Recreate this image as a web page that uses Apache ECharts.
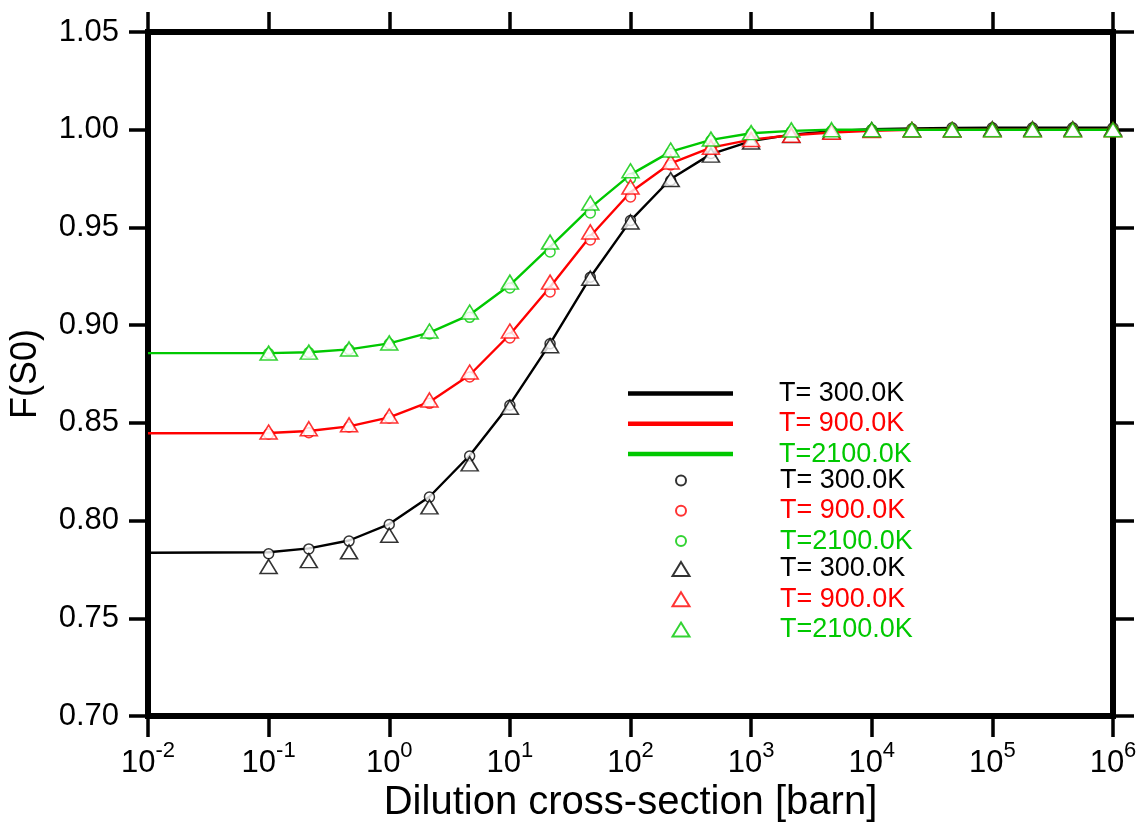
<!DOCTYPE html>
<html>
<head>
<meta charset="utf-8">
<script src="https://cdn.jsdelivr.net/npm/echarts@6/dist/echarts.min.js"></script>
<style>
html,body{margin:0;padding:0;background:#fff;}
#chart{width:1140px;height:829px;}
</style>
</head>
<body>
<div id="chart"></div>
<script>
// ---- data ----
const xPoints = [0.1, 0.2154, 0.4642, 1, 2.154, 4.642, 10, 21.54, 46.42, 100, 215.4, 464.2, 1000, 2154, 4642, 10000, 21540, 46420, 100000, 215400, 464200, 1000000];
const xLinePoints = [0.01, 0.1, 0.2154, 0.4642, 1, 2.154, 4.642, 10, 21.54, 46.42, 100, 215.4, 464.2, 1000, 2154, 4642, 10000, 21540, 46420, 100000, 215400, 464200, 1000000];

const line300  = [0.7835, 0.7838, 0.7858, 0.7898, 0.7982, 0.8122, 0.8333, 0.8595, 0.8905, 0.9245, 0.9535, 0.9748, 0.9875, 0.9942, 0.9975, 0.9992, 1.0002, 1.0007, 1.0009, 1.0010, 1.0010, 1.0010, 1.0010];
const line900  = [0.8447, 0.8448, 0.8458, 0.8482, 0.8528, 0.8607, 0.8745, 0.8952, 0.9195, 0.9455, 0.9680, 0.9828, 0.9908, 0.9949, 0.9972, 0.9986, 0.9995, 1.0000, 1.0000, 1.0000, 1.0000, 1.0000, 1.0000];
const line2100 = [0.8857, 0.8857, 0.8861, 0.8876, 0.8907, 0.8962, 0.9053, 0.9205, 0.9400, 0.9600, 0.9770, 0.9888, 0.9948, 0.9982, 0.9994, 1.0000, 1.0000, 1.0000, 1.0000, 1.0000, 1.0000, 1.0000, 1.0000];

const circ300  = [0.7830, 0.7855, 0.7895, 0.7980, 0.8120, 0.8330, 0.8590, 0.8905, 0.9245, 0.9535, 0.9740, 0.9878, 0.9940, 0.9972, 0.9990, 1.0000, 1.0005, 1.0010, 1.0010, 1.0010, 1.0010, 1.0010];
const circ900  = [0.8443, 0.8450, 0.8479, 0.8525, 0.8600, 0.8735, 0.8934, 0.9170, 0.9436, 0.9656, 0.9820, 0.9905, 0.9947, 0.9970, 0.9985, 0.9995, 1.0000, 1.0000, 1.0000, 1.0000, 1.0000, 1.0000];
const circ2100 = [0.8855, 0.8860, 0.8875, 0.8905, 0.8955, 0.9040, 0.9190, 0.9374, 0.9574, 0.9750, 0.9880, 0.9945, 0.9980, 0.9990, 0.9995, 1.0000, 1.0000, 1.0000, 1.0000, 1.0000, 1.0000, 1.0000];

const tri300  = [0.7765, 0.7795, 0.7840, 0.7925, 0.8070, 0.8290, 0.8580, 0.8895, 0.9240, 0.9528, 0.9745, 0.9870, 0.9937, 0.9970, 0.9990, 1.0000, 1.0000, 1.0000, 1.0005, 1.0005, 1.0005, 1.0005];
const tri900  = [0.8453, 0.8470, 0.8490, 0.8535, 0.8617, 0.8760, 0.8970, 0.9220, 0.9477, 0.9707, 0.9835, 0.9910, 0.9950, 0.9972, 0.9987, 0.9996, 1.0000, 1.0000, 1.0000, 1.0000, 1.0000, 1.0000];
const tri2100 = [0.8857, 0.8862, 0.8878, 0.8909, 0.8970, 0.9067, 0.9220, 0.9425, 0.9625, 0.9790, 0.9896, 0.9952, 0.9985, 0.9999, 1.0000, 1.0000, 1.0000, 1.0000, 1.0000, 1.0000, 1.0000, 1.0000];

const legendLabels = ['T= 300.0K', 'T= 900.0K', 'T=2100.0K'];
const yTickLabels = ['0.70', '0.75', '0.80', '0.85', '0.90', '0.95', '1.00', '1.05'];
const xTickExponents = ['-2', '-1', '0', '1', '2', '3', '4', '5', '6'];

const colors = ['#000000', '#ff0000', '#00c800'];
const FONT = 'Liberation Sans, Arial, sans-serif';

// ---- build ----
const pair = (xs, ys) => xs.map((x, i) => [x, ys[i]]);
const names = { L300:0, L900:1, L2100:2, C300:0, C900:1, C2100:2, T300:0, T900:1, T2100:2 };

const lineSeries = [['L300', line300], ['L900', line900], ['L2100', line2100]].map(([n, d], i) => ({
  name: n, type: 'line', xAxisIndex: 0, yAxisIndex: 0,
  data: pair(xLinePoints, d), symbol: 'none', smooth: false,
  color: colors[i],
  lineStyle: { color: colors[i], width: 2.4, join: 'round' },
  z: 2
}));
const circSeries = [['C300', circ300], ['C900', circ900], ['C2100', circ2100]].map(([n, d], i) => ({
  name: n, type: 'scatter', data: pair(xPoints, d), symbol: 'circle', symbolSize: 10,
  itemStyle: { color: '#ffffff', borderColor: colors[i], borderWidth: 1.5 },
  z: 3
}));
const triSeries = [['T300', tri300], ['T900', tri900], ['T2100', tri2100]].map(([n, d], i) => ({
  name: n, type: 'scatter', data: pair(xPoints, d), symbol: 'triangle', symbolSize: [17, 14],
  itemStyle: { color: '#ffffff', borderColor: colors[i], borderWidth: 1.6 },
  z: 4
}));

function legendBlock(keys, top, left, icon, w, h, padLeft) {
  return {
    orient: 'vertical', left: left, top: top, padding: 0, itemGap: 3.3,
    itemWidth: w, itemHeight: h, icon: icon,
    data: keys.map((k, i) => ({ name: k, textStyle: { color: colors[i] } })),
    formatter: n => legendLabels[names[n]],
    selectedMode: false,
    textStyle: { fontSize: 27, lineHeight: 26, fontFamily: FONT, padding: [0, 0, 0, padLeft] }
  };
}

const axisLineStyle = { color: '#000', width: 6, cap: 'square' };
const tickStyle = { color: '#000', width: 3.5 };

const option = {
  animation: false,
  backgroundColor: '#fff',
  grid: { left: 148, right: 27, top: 32, bottom: 113, containLabel: false },
  xAxis: [
    {
      type: 'log', logBase: 10, min: 0.01, max: 1000000, position: 'bottom',
      axisLine: { show: true, lineStyle: axisLineStyle },
      axisTick: { show: true, length: 21, lineStyle: tickStyle },
      minorTick: { show: false }, splitLine: { show: false },
      axisLabel: {
        margin: 24, fontFamily: FONT, color: '#000',
        formatter: v => {
          const e = Math.round(Math.log10(v));
          const idx = e + 2;
          return '{b|10}{s|' + xTickExponents[idx] + '}';
        },
        rich: {
          b: { fontSize: 31, lineHeight: 46, fontFamily: FONT, color: '#000' },
          s: { fontSize: 22, lineHeight: 22, verticalAlign: 'top', fontFamily: FONT, color: '#000' }
        }
      },
      name: 'Dilution cross-section [barn]', nameLocation: 'middle', nameGap: 63,
      nameTextStyle: { fontSize: 40, fontFamily: FONT, color: '#000' }
    },
    {
      type: 'log', logBase: 10, min: 0.01, max: 1000000, position: 'top',
      axisLine: { show: true, lineStyle: axisLineStyle },
      axisTick: { show: true, length: 20, lineStyle: tickStyle },
      axisLabel: { show: false }, splitLine: { show: false }
    }
  ],
  yAxis: [
    {
      type: 'value', min: 0.70, max: 1.05, interval: 0.05, position: 'left',
      axisLine: { show: true, lineStyle: axisLineStyle },
      axisTick: { show: true, length: 19, lineStyle: tickStyle },
      splitLine: { show: false },
      axisLabel: {
        margin: 29, fontSize: 31, fontFamily: FONT, color: '#000',
        formatter: v => yTickLabels[Math.round((v - 0.70) / 0.05)]
      },
      name: 'F(S0)', nameLocation: 'middle', nameRotate: 90, nameGap: 104,
      nameTextStyle: { fontSize: 36, fontFamily: FONT, color: '#000' }
    },
    {
      type: 'value', min: 0.70, max: 1.05, interval: 0.05, position: 'right',
      axisLine: { show: true, lineStyle: axisLineStyle },
      axisTick: { show: true, length: 21, lineStyle: tickStyle },
      axisLabel: { show: false }, splitLine: { show: false }
    }
  ],
  legend: [
    legendBlock(['L300', 'L900', 'L2100'], 380, 628, 'rect', 105, 4.5, 41),
    legendBlock(['C300', 'C900', 'C2100'], 467, 675, 'circle', 10, 10, 89),
    legendBlock(['T300', 'T900', 'T2100'], 555.5, 671.5, 'triangle', 17, 14, 85.5)
  ],
  series: [...lineSeries, ...circSeries, ...triSeries]
};

const chart = echarts.init(document.getElementById('chart'), null, { renderer: 'canvas' });
chart.setOption(option);
</script>
</body>
</html>
